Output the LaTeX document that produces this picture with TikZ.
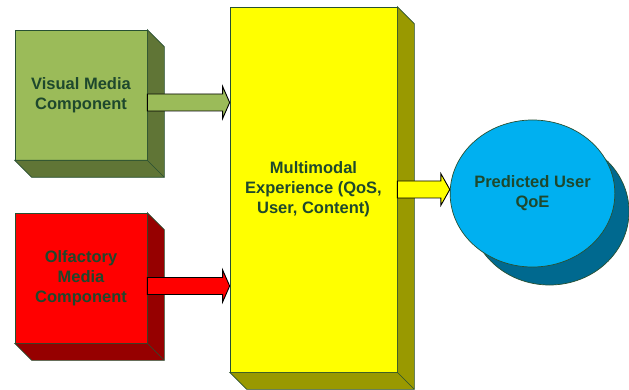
\documentclass[tikz,border=0pt]{standalone}
\usepackage{fontspec}
\setmainfont{Liberation Sans}
\usetikzlibrary{calc,shapes.geometric}
\definecolor{txtgreen}{RGB}{30,72,45}
\definecolor{edgegreen}{RGB}{40,80,50}
\definecolor{visfront}{RGB}{155,187,89}
\definecolor{visside}{RGB}{96,117,54}
\definecolor{olffront}{RGB}{255,0,0}
\definecolor{olfside}{RGB}{150,0,0}
\definecolor{mmfront}{RGB}{255,255,0}
\definecolor{mmside}{RGB}{153,153,0}
\definecolor{qoefront}{RGB}{0,176,240}
\definecolor{qoeside}{RGB}{0,105,143}
\tikzset{
  edge/.style={draw=edgegreen, line width=0.7pt},
  face/.style={edge, inner sep=0pt, align=center, text=txtgreen,
    font=\fontsize{16.5}{20}\selectfont\bfseries},
  fatarrow/.style={draw=black, line width=0.9pt, line join=miter},
}
\newcommand\depthfaces[2]{%
  \filldraw[edge, fill=#2] (#1.north east) -- ++(17,17)
    -- ($(#1.south east)+(17,17)$) -- ($(#1.south west)+(17,17)$)
    -- (#1.south west) -- (#1.south east) -- cycle;
  \draw[edge] (#1.south east) -- ++(17,17);}
% #1 start point, #2 target node anchor (x taken), #3 fill, #4 head length
\newcommand\fatarr[4]{%
  \filldraw[fatarrow, fill=#3] let \p1=(#1), \p2=(#2) in
    (\x1,{\y1+8.5pt}) -- ({\x2-#4},{\y1+8.5pt}) -- ({\x2-#4},{\y1+16pt})
    -- (\x2,\y1) -- ({\x2-#4},{\y1-16pt}) -- ({\x2-#4},{\y1-8.5pt})
    -- (\x1,{\y1-8.5pt}) -- cycle;}
\begin{document}
\begin{tikzpicture}[x=1pt,y=-1pt]
\useasboundingbox (0,0) rectangle (629,390);
% Visual media component
\node[face, fill=visfront, minimum width=132pt, minimum height=130pt] (vis) at (81,95) {Visual Media\\Component};
\depthfaces{vis}{visside}
% Olfactory media component
\node[face, fill=olffront, minimum width=132pt, minimum height=130pt] (olf) at (81,278) {Olfactory\\Media\\Component};
\depthfaces{olf}{olfside}
% Multimodal experience
\node[face, fill=mmfront, minimum width=167pt, minimum height=365pt] (mm) at (313.5,189.5) {Multimodal\\Experience (QoS,\\User, Content)};
\depthfaces{mm}{mmside}
% Predicted user QoE
\node[ellipse, edge, fill=qoeside, minimum width=159pt, minimum height=147pt, inner sep=0pt] (qoeshadow) at (549.5,211.5) {};
\node[ellipse, face, fill=qoefront, minimum width=159pt, minimum height=147pt] (qoe) at (532.5,193.5) {\raisebox{3pt}{\begin{tabular}{@{}c@{}}Predicted User\\QoE\end{tabular}}};
% Arrows
\fatarr{[yshift=-7.5pt]vis.east}{mm.west}{visfront}{7pt}
\fatarr{[yshift=-8pt]olf.east}{mm.west}{olffront}{7pt}
\fatarr{mm.east}{qoe.west}{mmfront}{9pt}
\end{tikzpicture}
\end{document}
